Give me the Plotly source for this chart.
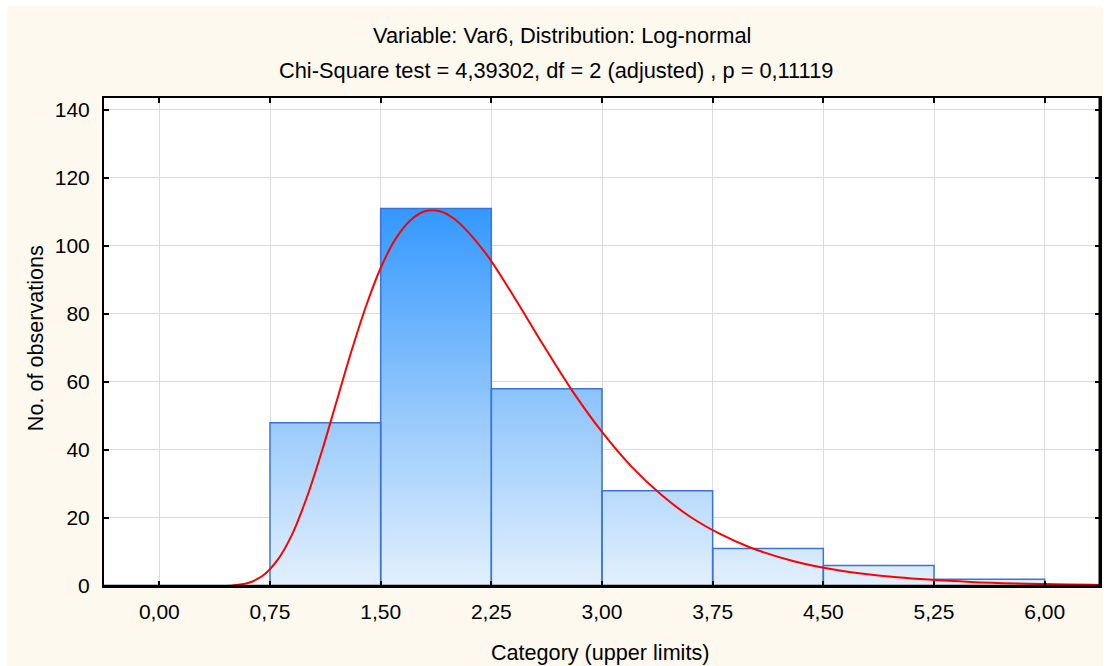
import plotly.graph_objects as go

# Histogram categories (upper limits) and observed counts per class
bin_edges = [0.0, 0.75, 1.50, 2.25, 3.00, 3.75, 4.50, 5.25, 6.00]
counts = [0, 48, 111, 58, 28, 11, 6, 2]

# Axis ticks
x_tick_vals = [0.0, 0.75, 1.50, 2.25, 3.00, 3.75, 4.50, 5.25, 6.00]
x_tick_text = ["0,00", "0,75", "1,50", "2,25", "3,00", "3,75", "4,50", "5,25", "6,00"]
y_tick_vals = [0, 20, 40, 60, 80, 100, 120, 140]

# Expected frequencies of the fitted log-normal curve
fit_x = [0.05, 0.30, 0.40, 0.50, 0.60, 0.70, 0.80, 0.90, 1.00, 1.10, 1.20,
         1.30, 1.40, 1.50, 1.60, 1.70, 1.80, 1.90, 2.00, 2.20, 2.40, 2.60,
         2.80, 3.00, 3.20, 3.40, 3.60, 3.80, 4.00, 4.30, 4.60, 5.00, 5.50,
         6.00, 6.375]
fit_y = [0.0, 0.0, 0.01, 0.16, 0.88, 3.0, 7.6, 15.2, 26.1, 39.4, 54.1,
         68.8, 82.2, 93.5, 102.0, 107.5, 110.2, 110.2, 107.9, 98.5, 85.3, 71.0,
         57.3, 45.3, 35.1, 26.9, 20.3, 15.3, 11.4, 7.3, 4.65, 2.54, 1.19,
         0.56, 0.32]

title_1 = "Variable: Var6, Distribution: Log-normal"
title_2 = "Chi-Square test = 4,39302, df = 2 (adjusted) , p = 0,11119"
x_title = "Category (upper limits)"
y_title = "No. of observations"

FONT = "Liberation Sans, Arial, sans-serif"
FS_TICK = 21
FS_TITLE = 21.8
FS_AXIS = 21.6

# Build the bars as closed outlines so one vertical gradient spans all of them
bar_x, bar_y = [], []
for i, c in enumerate(counts):
    a, b = bin_edges[i], bin_edges[i + 1]
    bar_x += [a, a, b, b, a, None]
    bar_y += [0, c, c, 0, 0, None]

fig = go.Figure()

fig.add_trace(go.Scatter(
    x=bar_x, y=bar_y, mode="lines", fill="toself",
    fillgradient=dict(type="vertical",
                      colorscale=[[0, "#E3F0FD"], [0.45, "#97C9FB"], [1, "#3398FF"]],
                      start=0, stop=max(counts)),
    line=dict(color="#3B74D6", width=1.5),
    hoverinfo="skip", showlegend=False,
))

fig.add_trace(go.Scatter(
    x=fit_x, y=fit_y, mode="lines",
    line=dict(color="#FF0000", width=2, shape="spline", smoothing=1.0),
    showlegend=False,
))

L, R, T, B = 104, 10, 98, 80
W, H = 1112, 666
pw, ph = W - L - R, H - T - B

def px_to_paper_x(px):
    return (px - L) / pw

def px_to_paper_y(py):
    return (H - B - py) / ph

shapes = [
    # cream frame of the graph window
    dict(type="rect", xref="paper", yref="paper", layer="below",
         x0=px_to_paper_x(7), x1=px_to_paper_x(1105),
         y0=px_to_paper_y(666), y1=px_to_paper_y(6),
         fillcolor="#FDF9EF", line=dict(width=0)),
    # white plotting area
    dict(type="rect", xref="paper", yref="paper", layer="below",
         x0=0, x1=1, y0=0, y1=1, fillcolor="white", line=dict(width=0)),
    # heavier right and bottom edges of the plot box
    dict(type="line", xref="paper", yref="paper", x0=1, x1=1, y0=0, y1=1,
         line=dict(color="black", width=3)),
    dict(type="line", xref="paper", yref="paper", x0=0, x1=1, y0=0, y1=0,
         line=dict(color="black", width=2.5)),
]

annotations = [
    dict(text=title_1, xref="paper", yref="paper",
         x=px_to_paper_x(563), y=px_to_paper_y(35),
         xanchor="center", yanchor="middle", showarrow=False,
         font=dict(family=FONT, size=FS_TITLE, color="black")),
    dict(text=title_2, xref="paper", yref="paper",
         x=px_to_paper_x(557), y=px_to_paper_y(70),
         xanchor="center", yanchor="middle", showarrow=False,
         font=dict(family=FONT, size=FS_TITLE, color="black")),
    dict(text=x_title, xref="paper", yref="paper",
         x=px_to_paper_x(601), y=px_to_paper_y(652),
         xanchor="center", yanchor="middle", showarrow=False,
         font=dict(family=FONT, size=FS_AXIS, color="black")),
    dict(text=y_title, xref="paper", yref="paper",
         x=px_to_paper_x(35), y=px_to_paper_y(338), textangle=-90,
         xanchor="center", yanchor="middle", showarrow=False,
         font=dict(family=FONT, size=FS_AXIS, color="black")),
]

fig.update_layout(
    width=W, height=H,
    margin=dict(l=L, r=R, t=T, b=B),
    paper_bgcolor="white",
    plot_bgcolor="white",
    font=dict(family=FONT, size=FS_TICK, color="black"),
    shapes=shapes,
    annotations=annotations,
    showlegend=False,
    xaxis=dict(
        range=[-0.375, 6.375], tickmode="array",
        tickvals=x_tick_vals, ticktext=x_tick_text,
        tickfont=dict(size=FS_TICK),
        showgrid=True, gridcolor="#DCDCDC", gridwidth=1, zeroline=False,
        showline=True, linecolor="black", linewidth=2, mirror="ticks",
        ticks="inside", ticklen=5, tickwidth=2, tickcolor="black",
        ticklabelstandoff=6,
    ),
    yaxis=dict(
        range=[0, 143.5], tickmode="array", tickvals=y_tick_vals,
        tickfont=dict(size=FS_TICK),
        showgrid=True, gridcolor="#DCDCDC", gridwidth=1, zeroline=False,
        showline=True, linecolor="black", linewidth=2, mirror="ticks",
        ticks="inside", ticklen=5, tickwidth=2, tickcolor="black",
        ticklabelstandoff=8,
    ),
)

fig.write_html("out.html")
